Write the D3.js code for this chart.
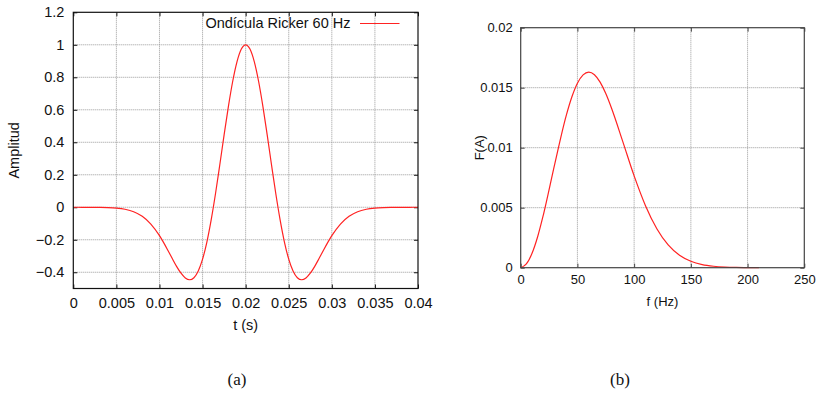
<!DOCTYPE html>
<html>
<head>
<meta charset="utf-8">
<script src="https://cdn.jsdelivr.net/npm/d3@7"></script>
<style>
  body { margin: 0; background: #fff; }
  svg { display: block; font-family: "Liberation Sans", Arial, sans-serif; }
  .grid line { stroke: #999; stroke-dasharray: 1,1; }
</style>
</head>
<body>
<svg width="821" height="393"></svg>
<script>
// (a) Ricker wavelet, 60 Hz
var timeS = [0, 0.001, 0.002, 0.003, 0.004, 0.005, 0.006, 0.007, 0.008, 0.009,
  0.010, 0.0105, 0.011, 0.0115, 0.012, 0.0125, 0.013, 0.0135, 0.014, 0.0145,
  0.015, 0.0155, 0.016, 0.0165, 0.017, 0.0175, 0.018, 0.0185, 0.019, 0.0195,
  0.020, 0.0205, 0.021, 0.0215, 0.022, 0.0225, 0.023, 0.0235, 0.024, 0.0245,
  0.025, 0.0255, 0.026, 0.0265, 0.027, 0.0275, 0.028, 0.0285, 0.029, 0.0295,
  0.030, 0.031, 0.032, 0.033, 0.034, 0.035, 0.036, 0.037, 0.038, 0.039, 0.040];
var amplitude = [0, -0.0001, -0.0002, -0.0007, -0.0019, -0.0051, -0.0123, -0.0272, -0.0553, -0.1032,
  -0.1748, -0.2191, -0.2675, -0.3173, -0.3651, -0.4060, -0.4352, -0.4461, -0.4337, -0.3924,
  -0.3195, -0.2139, -0.0776, 0.0830, 0.2618, 0.4451, 0.6210, 0.7756, 0.8965, 0.9736,
  1.0000, 0.9736, 0.8965, 0.7756, 0.6210, 0.4451, 0.2618, 0.0830, -0.0776, -0.2139,
  -0.3195, -0.3924, -0.4337, -0.4461, -0.4352, -0.4060, -0.3651, -0.3173, -0.2675, -0.2191,
  -0.1748, -0.1032, -0.0553, -0.0272, -0.0123, -0.0051, -0.0019, -0.0007, -0.0002, -0.0001, 0];

// (b) amplitude spectrum
var freqHz = [0, 5, 10, 15, 20, 30, 40, 45, 50, 55, 60, 65, 70, 75, 80, 90, 100,
  110, 120, 130, 140, 150, 160, 170, 180, 190, 200, 210];
var spectrum = [0, 0.00031, 0.00120, 0.00260, 0.00441, 0.00863, 0.01263, 0.01420, 0.01537, 0.01607,
  0.01630, 0.01608, 0.01546, 0.01451, 0.01331, 0.01051, 0.00765,
  0.00517, 0.00325, 0.00190, 0.00104, 0.00054, 0.00026, 0.00012, 0.00005, 0.00002, 0.00001, 0];

var tTicks = [0, 0.005, 0.01, 0.015, 0.02, 0.025, 0.03, 0.035, 0.04];
var ampTicks = [-0.4, -0.2, 0, 0.2, 0.4, 0.6, 0.8, 1, 1.2];
var fTicks = [0, 50, 100, 150, 200, 250];
var specTicks = [0, 0.005, 0.01, 0.015, 0.02];

var legendLabel = "Ondícula Ricker 60 Hz";
var curveColor = "#f22";

var svg = d3.select("svg");
var fmt = d3.format("~g");

function panel(o) {
  var x = d3.scaleLinear().domain(o.xDomain).range([o.left, o.right]);
  var y = d3.scaleLinear().domain(o.yDomain).range([o.bottom, o.top]);
  var g = svg.append("g");

  // dotted grid at interior ticks
  var grid = g.append("g").attr("class", "grid");
  grid.selectAll(".gx")
    .data(o.xTicks.filter(function(d) { return d > o.xDomain[0] && d < o.xDomain[1]; }))
    .enter().append("line")
    .attr("x1", x).attr("x2", x)
    .attr("y1", o.top).attr("y2", o.bottom);
  grid.selectAll(".gy")
    .data(o.yTicks.filter(function(d) { return d > o.yDomain[0] && d < o.yDomain[1]; }))
    .enter().append("line")
    .attr("y1", y).attr("y2", y)
    .attr("x1", o.left).attr("x2", o.right);

  // axes: ticks pointing inward on all four sides
  var bottom = g.append("g")
    .attr("transform", "translate(0," + o.bottom + ")")
    .call(d3.axisBottom(x).tickValues(o.xTicks).tickFormat(fmt)
      .tickSizeInner(-4).tickSizeOuter(0).tickPadding(o.xPad));
  var left = g.append("g")
    .attr("transform", "translate(" + o.left + ",0)")
    .call(d3.axisLeft(y).tickValues(o.yTicks).tickFormat(fmt)
      .tickSizeInner(-4).tickSizeOuter(0).tickPadding(o.yPad));
  var top = g.append("g")
    .attr("transform", "translate(0," + o.top + ")")
    .call(d3.axisTop(x).tickValues(o.xTicks).tickFormat("")
      .tickSizeInner(-4).tickSizeOuter(0));
  var right = g.append("g")
    .attr("transform", "translate(" + o.right + ",0)")
    .call(d3.axisRight(y).tickValues(o.yTicks).tickFormat("")
      .tickSizeInner(-4).tickSizeOuter(0));
  [bottom, left, top, right].forEach(function(a) {
    a.select(".domain").remove();
    a.selectAll("line").attr("stroke", o.frame);
    a.selectAll("text").attr("fill", "#111").style("font-size", o.fontSize + "px")
      .attr("font-family", null);
  });

  // data curve
  var line = d3.line()
    .x(function(d) { return x(d[0]); })
    .y(function(d) { return y(d[1]); })
    .curve(d3.curveMonotoneX);
  g.append("path")
    .datum(d3.zip(o.xs, o.ys))
    .attr("d", line)
    .attr("fill", "none")
    .attr("stroke", curveColor)
    .attr("stroke-width", 1.2);

  // frame
  g.append("rect")
    .attr("x", o.left).attr("y", o.top)
    .attr("width", o.right - o.left).attr("height", o.bottom - o.top)
    .attr("fill", "none").attr("stroke", o.frame).attr("stroke-width", 1.2);

  // axis titles
  g.append("text")
    .attr("x", (o.left + o.right) / 2).attr("y", o.xTitleY)
    .attr("text-anchor", "middle").style("font-size", o.fontSize + "px")
    .attr("fill", "#111").text(o.xTitle);
  g.append("text")
    .attr("transform", "translate(" + o.yTitleX + "," + ((o.top + o.bottom) / 2) + ") rotate(-90)")
    .attr("text-anchor", "middle").style("font-size", o.fontSize + "px")
    .attr("fill", "#111").text(o.yTitle);

  return { g: g, x: x, y: y };
}

var a = panel({
  xDomain: [0, 0.04], yDomain: [-0.5, 1.2],
  left: 73.3, right: 418, top: 12.3, bottom: 288.5,
  xTicks: tTicks, yTicks: ampTicks, xs: timeS, ys: amplitude,
  xPad: 9, yPad: 9, fontSize: 14.5, frame: "#111",
  xTitle: "t (s)", xTitleY: 330, yTitle: "Amplitud", yTitleX: 19
});

// legend
a.g.append("text")
  .attr("x", 350.5).attr("y", 28)
  .attr("text-anchor", "end").style("font-size", "14.5px")
  .attr("fill", "#111").text(legendLabel);
a.g.append("line")
  .attr("x1", 360).attr("x2", 399.5)
  .attr("y1", 23.5).attr("y2", 23.5)
  .attr("stroke", curveColor).attr("stroke-width", 1.2);

panel({
  xDomain: [0, 250], yDomain: [0, 0.02],
  left: 520.7, right: 804.3, top: 27.7, bottom: 267.7,
  xTicks: fTicks, yTicks: specTicks, xs: freqHz, ys: spectrum,
  xPad: 7, yPad: 8, fontSize: 13, frame: "#444",
  xTitle: "f (Hz)", xTitleY: 306, yTitle: "F(A)", yTitleX: 484
});

// sub-figure captions
svg.selectAll(".caption")
  .data([["(a)", 237], ["(b)", 620]])
  .enter().append("text")
  .attr("x", function(d) { return d[1]; }).attr("y", 385)
  .attr("text-anchor", "middle")
  .style("font-family", "'Liberation Serif', 'Times New Roman', serif")
  .style("font-size", "17px").attr("fill", "#111")
  .text(function(d) { return d[0]; });
</script>
</body>
</html>
